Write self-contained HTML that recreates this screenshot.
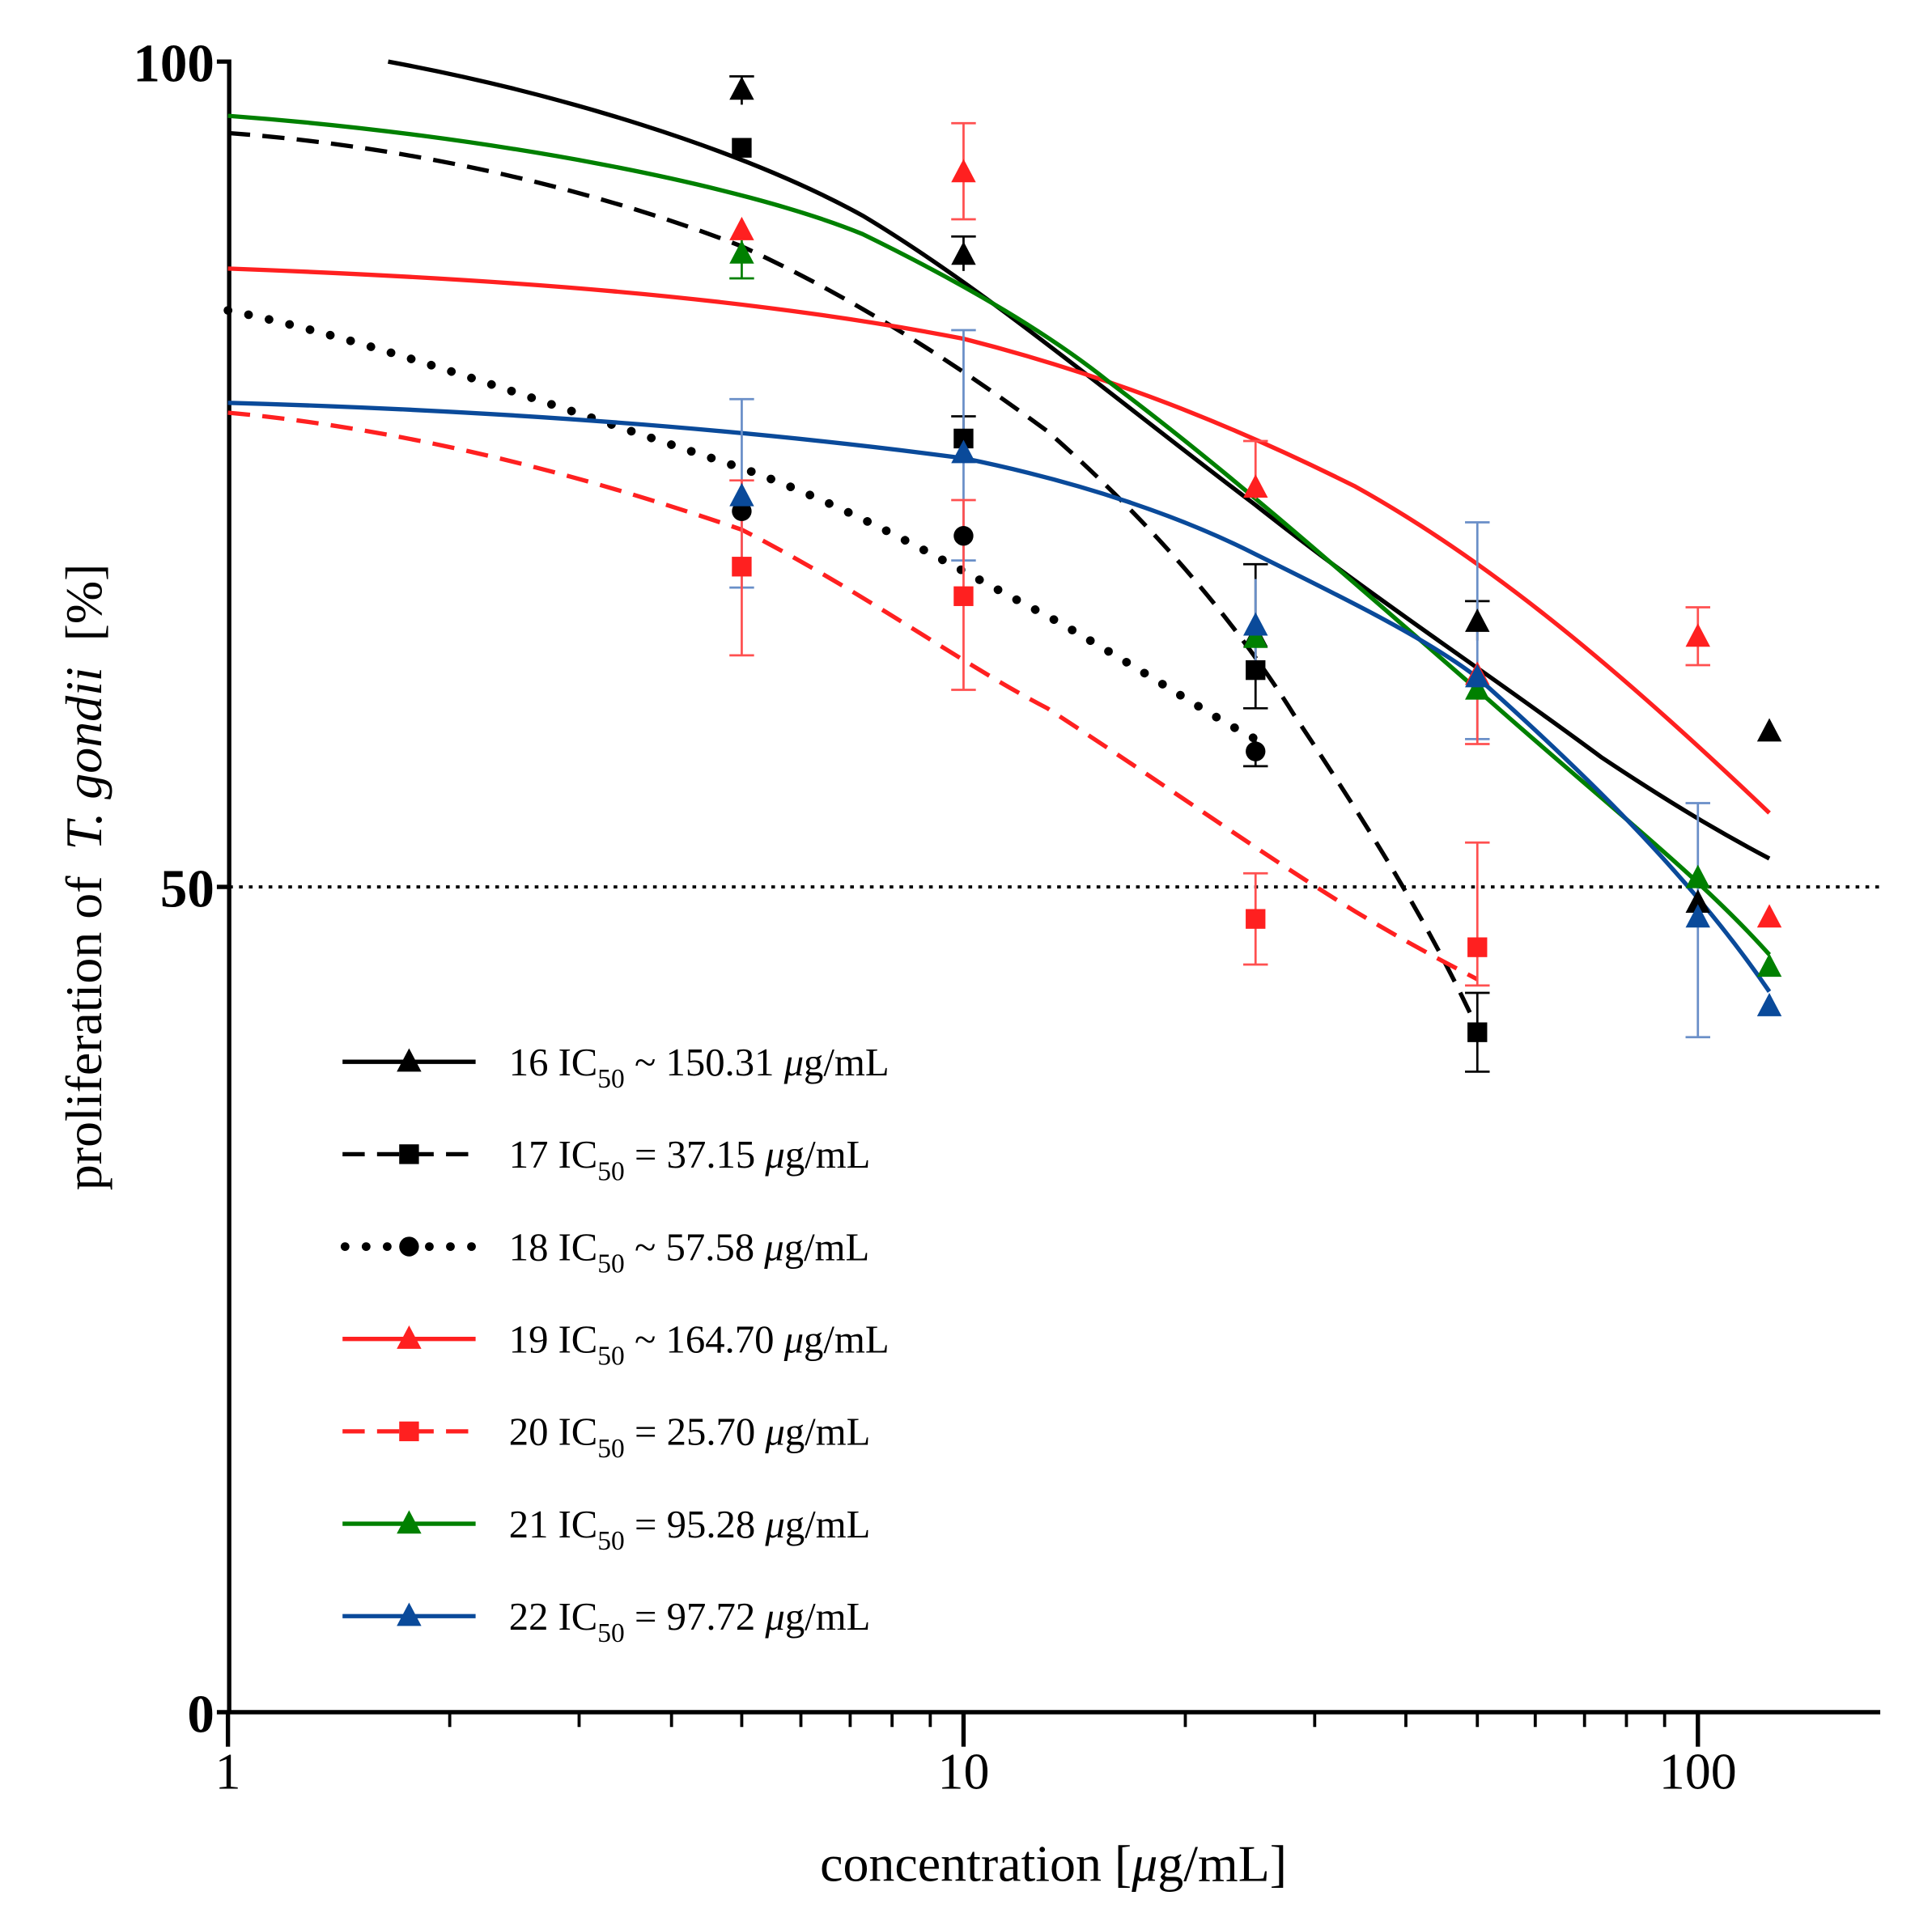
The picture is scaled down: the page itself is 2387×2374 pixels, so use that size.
<!DOCTYPE html>
<html><head><meta charset="utf-8"><style>
html,body{margin:0;padding:0;background:#fff;}
svg{display:block;}
text{font-family:"Liberation Serif",serif;}
</style></head><body>
<svg width="2387" height="2374" viewBox="0 0 1568 1559.5" preserveAspectRatio="none" xmlns="http://www.w3.org/2000/svg">
<defs>
<path id="tri" d="M0,-11 L10,8 L-10,8 Z"/>
<rect id="sq" x="-8" y="-8" width="16" height="16"/>
</defs>
<g stroke="#000" stroke-width="3.5" fill="none">
<path d="M176,50 H186 V1390 H1526"/>
<path d="M176,720 H186 M176,1390 H186"/>
<path d="M185,1390 V1418 M782,1390 V1418 M1378,1390 V1418"/>
</g>
<g stroke="#000" stroke-width="2.5">
<path d="M365,1390v12 M470,1390v12 M545,1390v12 M602,1390v12 M650,1390v12 M690,1390v12 M724,1390v12 M755,1390v12
M962,1390v12 M1067,1390v12 M1141,1390v12 M1199,1390v12 M1246,1390v12 M1286,1390v12 M1320,1390v12 M1351,1390v12"/>
</g>
<line x1="186" y1="720" x2="1530" y2="720" stroke="#000" stroke-width="2.5" stroke-dasharray="3,5"/>
<g font-weight="bold" font-size="44" text-anchor="end">
<text x="174" y="66">100</text><text x="174" y="736">50</text><text x="174" y="1406">0</text>
</g>
<g font-size="42" text-anchor="middle">
<text x="185" y="1452">1</text><text x="782" y="1452">10</text><text x="1378" y="1452">100</text>
<text x="855" y="1527">concentration [<tspan font-style="italic">μ</tspan>g/mL]</text>
<text transform="translate(82,712) rotate(-90)" xml:space="preserve">proliferation of  <tspan font-style="italic">T. gondii</tspan>  [%]</text>
</g>
<g fill="none" stroke-width="3.5">
<path stroke="#000" d="M315,50 C450,75 600,120 700,175 C800,235 900,320 1019,410 C1120,490 1199,540 1300,615 C1360,655 1400,678 1436,697"/>
<path stroke="#000" stroke-dasharray="18,10" d="M185,108 C350,120 500,160 602,200 C700,245 782,300 850,350 C930,420 1000,500 1050,580 C1110,670 1160,750 1199,835"/>
<path stroke="#000" stroke-width="7" stroke-linecap="round" stroke-dasharray="0.1,17" d="M185,252 C300,275 450,330 602,380 C700,415 782,465 850,500 C930,545 980,580 1019,600"/>
<path stroke="#ff2020" d="M185,218 C400,226 602,240 782,275 C900,305 1000,345 1100,395 C1199,450 1300,530 1436,660"/>
<path stroke="#ff2020" stroke-dasharray="18,10" d="M185,335 C350,350 500,395 602,430 C700,480 782,540 850,575 C950,640 1019,690 1100,740 C1150,770 1180,785 1199,795"/>
<path stroke="#008000" d="M185,94 C400,110 602,150 700,190 C782,230 850,270 900,310 C980,370 1050,430 1199,560 C1300,650 1378,710 1436,775"/>
<path stroke="#0a4a9a" d="M185,327 C400,333 602,348 782,372 C880,392 960,420 1019,450 C1100,490 1160,520 1199,550 C1300,640 1378,720 1436,805"/>
</g>
<g stroke-width="1.8" fill="none">
<path stroke="#000" d="M602,62V85 M592,62h20 M782,192V220 M772,192h20 M1019,458V575 M1009,458h20 M1009,575h20 M1199,488V520 M1189,488h20 M1199,806V870 M1189,806h20 M1189,870h20 M1019,598V622 M1009,622h20 M782,338V356 M772,338h20"/>
<path stroke="#6a8fc8" d="M602,324V477 M592,324h20 M592,477h20 M782,268V455 M772,268h20 M772,455h20 M1199,424V600 M1189,424h20 M1189,600h20 M1378,652V842 M1368,652h20 M1368,842h20 M1019,470V540"/>
<path stroke="#ff5050" d="M782,100V178 M772,100h20 M772,178h20 M602,390V532 M592,390h20 M592,532h20 M782,406V560 M772,406h20 M772,560h20 M1019,709V783 M1009,709h20 M1009,783h20 M1199,684V800 M1189,684h20 M1189,800h20 M1378,493V540 M1368,493h20 M1368,540h20 M1019,358V405 M1009,358h20 M1199,540V604 M1189,604h20"/>
<path stroke="#008000" d="M602,195V226 M592,226h20"/>
</g>
<g fill="#000">
<use href="#tri" x="602" y="73"/><use href="#tri" x="782" y="207"/><use href="#tri" x="1019" y="517"/><use href="#tri" x="1199" y="505"/><use href="#tri" x="1378" y="733"/><use href="#tri" x="1436" y="594"/>
<use href="#sq" x="602" y="120"/><use href="#sq" x="782" y="356"/><use href="#sq" x="1019" y="544"/><use href="#sq" x="1199" y="838"/>
<circle cx="602" cy="415" r="8"/><circle cx="782" cy="435" r="8"/><circle cx="1019" cy="610" r="8"/>
</g>
<g fill="#ff2020">
<use href="#tri" x="602" y="187"/><use href="#tri" x="782" y="140"/><use href="#tri" x="1019" y="396"/><use href="#tri" x="1199" y="548"/><use href="#tri" x="1378" y="517"/><use href="#tri" x="1436" y="745"/>
<use href="#sq" x="602" y="460"/><use href="#sq" x="782" y="484"/><use href="#sq" x="1019" y="746"/><use href="#sq" x="1199" y="769"/>
</g>
<g fill="#008000">
<use href="#tri" x="602" y="206"/><use href="#tri" x="1019" y="518"/><use href="#tri" x="1199" y="560"/><use href="#tri" x="1378" y="713"/><use href="#tri" x="1436" y="785"/>
</g>
<g fill="#0a4a9a">
<use href="#tri" x="602" y="403"/><use href="#tri" x="782" y="368"/><use href="#tri" x="1019" y="508"/><use href="#tri" x="1199" y="550"/><use href="#tri" x="1378" y="745"/><use href="#tri" x="1436" y="817"/>
</g>
<g stroke-width="3.5" fill="none">
<path stroke="#000" d="M278,862H386"/>
<path stroke="#000" stroke-dasharray="18,10" d="M278,937H386"/>
<path stroke="#000" stroke-width="7" stroke-linecap="round" stroke-dasharray="0.1,17" d="M280,1012H386"/>
<path stroke="#ff2020" d="M278,1087H386"/>
<path stroke="#ff2020" stroke-dasharray="18,10" d="M278,1162H386"/>
<path stroke="#008000" d="M278,1237H386"/>
<path stroke="#0a4a9a" d="M278,1312H386"/>
</g>
<use href="#tri" x="332" y="862" fill="#000"/>
<use href="#sq" x="332" y="937" fill="#000"/>
<circle cx="332" cy="1012" r="8" fill="#000"/>
<use href="#tri" x="332" y="1087" fill="#ff2020"/>
<use href="#sq" x="332" y="1162" fill="#ff2020"/>
<use href="#tri" x="332" y="1237" fill="#008000"/>
<use href="#tri" x="332" y="1312" fill="#0a4a9a"/>
<g font-size="32" xml:space="preserve">
<text x="413" y="873">16  IC<tspan font-size="22" dy="10">50</tspan><tspan dy="-10"> ~ 150.31 </tspan><tspan font-style="italic">μ</tspan>g/mL</text>
<text x="413" y="948">17  IC<tspan font-size="22" dy="10">50</tspan><tspan dy="-10"> = 37.15 </tspan><tspan font-style="italic">μ</tspan>g/mL</text>
<text x="413" y="1023">18  IC<tspan font-size="22" dy="10">50</tspan><tspan dy="-10"> ~ 57.58 </tspan><tspan font-style="italic">μ</tspan>g/mL</text>
<text x="413" y="1098">19  IC<tspan font-size="22" dy="10">50</tspan><tspan dy="-10"> ~ 164.70 </tspan><tspan font-style="italic">μ</tspan>g/mL</text>
<text x="413" y="1173">20  IC<tspan font-size="22" dy="10">50</tspan><tspan dy="-10"> = 25.70 </tspan><tspan font-style="italic">μ</tspan>g/mL</text>
<text x="413" y="1248">21  IC<tspan font-size="22" dy="10">50</tspan><tspan dy="-10"> = 95.28 </tspan><tspan font-style="italic">μ</tspan>g/mL</text>
<text x="413" y="1323">22  IC<tspan font-size="22" dy="10">50</tspan><tspan dy="-10"> = 97.72 </tspan><tspan font-style="italic">μ</tspan>g/mL</text>
</g>
</svg>
</body></html>
